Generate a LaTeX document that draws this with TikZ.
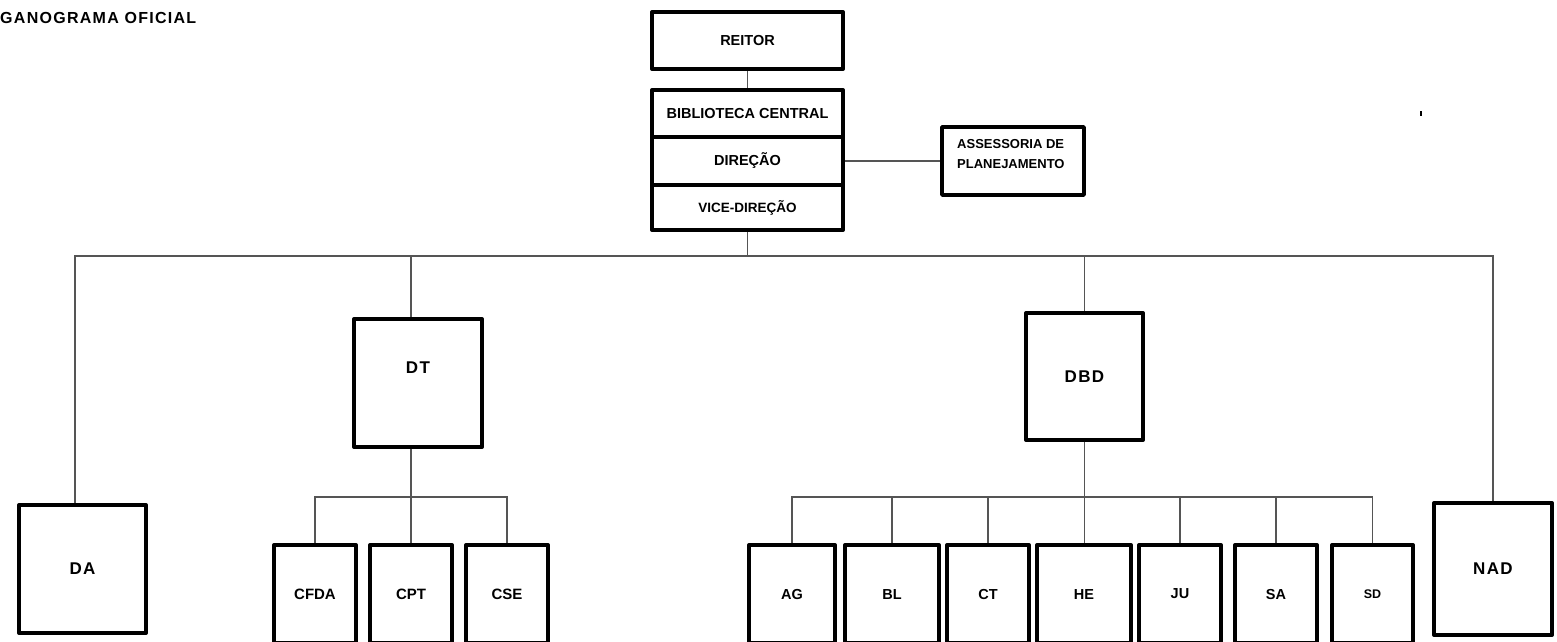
\documentclass[tikz,border=0pt]{standalone}
\usepackage{fontspec}
\setmainfont{Liberation Sans}
\newfontfamily\spacedfont{Liberation Sans}[LetterSpace=8]
\usetikzlibrary{backgrounds}
\definecolor{wiregray}{HTML}{555555}

\tikzset{
  unitbox/.style={draw, line width=4pt, line join=round, fill=white, inner sep=0pt,
    font=\bfseries\fontsize{14.5}{16}\selectfont},
  wire/.style={draw=wiregray, line width=1.3pt},
  spacedlbl/.style={font=\spacedfont\bfseries\fontsize{17}{19}\selectfont},
}

\begin{document}
\begin{tikzpicture}[x=1pt,y=-1pt]
    \useasboundingbox (0,0) rectangle (1557,641);

    % Title
    \node[font=\spacedfont\bfseries\fontsize{16}{18}\selectfont, anchor=base west, inner sep=0pt] (title) at (0,23) {GANOGRAMA OFICIAL};

    % Top of the chart
    \node[unitbox, minimum width=191pt, minimum height=57pt] (reitor) at (747.5,40.5) {REITOR};
    \node[unitbox, minimum width=191pt, minimum height=47pt] (bib) at (747.5,113.5) {BIBLIOTECA CENTRAL};
    \node[unitbox, minimum width=191pt, minimum height=48pt] (dir) at (747.5,161) {DIREÇÃO};
    \node[unitbox, minimum width=191pt, minimum height=45pt, font=\bfseries\fontsize{13.5}{15}\selectfont] (vice) at (747.5,207.5) {VICE-DIREÇÃO};
    \node[unitbox, line width=3.5pt, minimum width=142pt, minimum height=68pt] (assess) at (1013,161) {};
    \node[font=\bfseries\fontsize{13}{19.5}\selectfont, align=left, anchor=west, inner sep=0pt] (assesslbl) at (957,154) {ASSESSORIA DE\\PLANEJAMENTO};

    % Directorates
    \node[unitbox, spacedlbl, minimum width=127pt, minimum height=128pt] (da) at (82.5,569) {DA};
    \node[unitbox, minimum width=128pt, minimum height=128pt, label={[spacedlbl, yshift=15pt]center:DT}] (dt) at (418,383) {};
    \node[unitbox, spacedlbl, minimum width=117pt, minimum height=127pt] (dbd) at (1084.5,376.5) {DBD};
    \node[unitbox, spacedlbl, minimum width=118pt, minimum height=132pt] (nad) at (1493,569) {NAD};

    % Units under DT
    \foreach \n/\txt/\cx in {cfda/CFDA/315, cpt/CPT/411, cse/CSE/507}
      \node[unitbox, minimum width=82pt, minimum height=98pt, font=\bfseries\fontsize{15}{17}\selectfont] (\n) at (\cx,594) {\txt};

    % Units under DBD
    \foreach \n/\txt/\cx/\w/\fs in {ag/AG/792/86/14.5, bl/BL/892/94/14.5, ct/CT/988/82/14.5, he/HE/1084/94/14.5,
                                    ju/JU/1180/82/14.5, sa/SA/1276/82/14.5, sd/SD/1372.5/81/12.5}
      \node[unitbox, minimum width=\w pt, minimum height=98pt, font=\bfseries\fontsize{\fs}{16}\selectfont] (\n) at (\cx,594) {\txt};

    % stray mark
    \fill (1420.4,111) rectangle (1421.8,115.5);

    % Connectors
    \begin{scope}[on background layer]
      \draw[wire] (reitor) -- (bib);
      \draw[wire] (dir) -- (assess);
      \coordinate (bus) at (747.5,256);
      \draw[wire] (vice) -- (bus);
      \draw[wire] ([xshift=-7.5pt]da.north) |- (bus);
      \draw[wire] ([xshift=-7pt]dt.north) |- (bus);
      \draw[wire] (dbd.north) |- (bus);
      \draw[wire] (nad.north) |- (bus);

      \coordinate (dtbus) at (411,497);
      \draw[wire] ([xshift=-7pt]dt.south) -- (cpt.north);
      \draw[wire] (cfda.north) |- (dtbus) -| (cse.north);

      \coordinate (dbdbus) at (1084,497);
      \draw[wire] (dbd.south) -- (dbd.south |- he.north);
      \draw[wire] (ag.north) |- (dbdbus) -| (sd.north);
      \foreach \n in {bl, ct, ju, sa}
        \draw[wire] (\n.north) -- (\n.north |- dbdbus);
    \end{scope}
\end{tikzpicture}
\end{document}
